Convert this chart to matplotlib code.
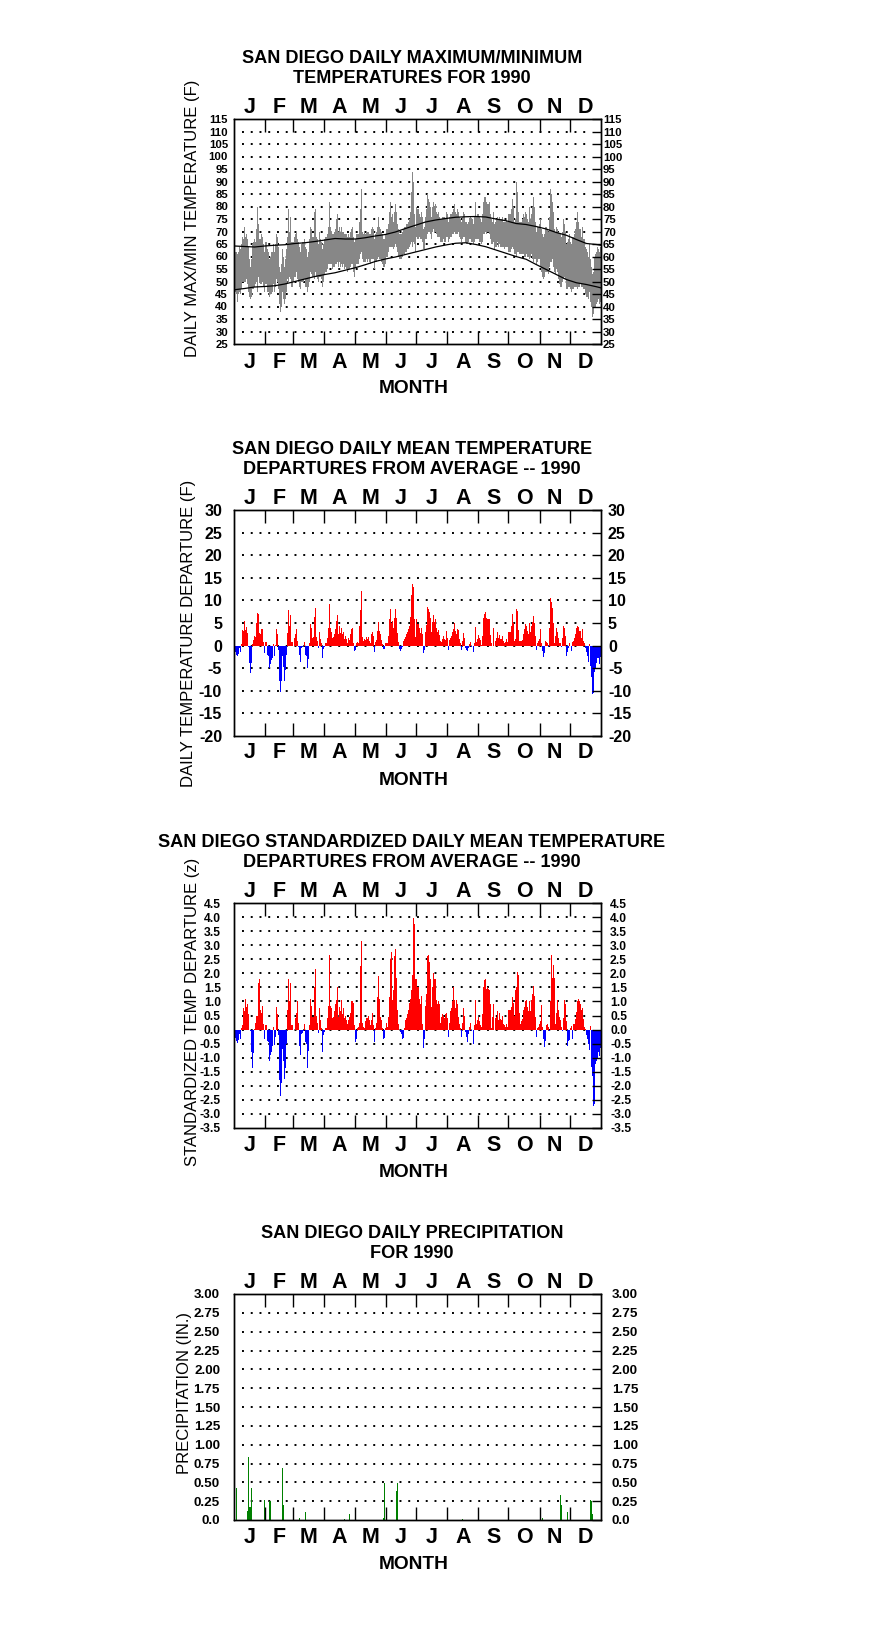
import numpy as np
import matplotlib
matplotlib.use('Agg')
import matplotlib.pyplot as plt

plt.rcParams['font.family'] = ['Liberation Sans', 'DejaVu Sans']

# ---- data ----
month_letters = ['J', 'F', 'M', 'A', 'M', 'J', 'J', 'A', 'S', 'O', 'N', 'D']
month_len = [31, 28, 31, 30, 31, 30, 31, 31, 30, 31, 30, 31]

# daily max / min temperature (F)
tmax = [
    63, 62, 62, 61, 62, 64, 63, 65, 68, 67, 72, 68, 69, 67, 64, 59, 56, 59, 65, 66, 67, 66, 71, 80, 73, 67, 67, 69, 68, 65, 62,
    66, 66, 63, 62, 59, 60, 62, 62, 65, 62, 65, 69, 68, 64, 56, 54, 57, 63, 60, 56, 59, 63, 68, 79, 70, 76, 66, 66,
    66, 68, 69, 70, 67, 66, 64, 62, 65, 66, 66, 67, 64, 63, 60, 62, 67, 72, 71, 68, 68, 78, 79, 68, 67, 65, 70, 67, 66, 63, 65,
    67, 68, 69, 72, 82, 72, 70, 69, 69, 70, 71, 75, 77, 70, 72, 70, 72, 70, 70, 69, 69, 69, 68, 69, 68, 70, 71, 72, 68, 66,
    67, 69, 69, 69, 74, 79, 87, 70, 69, 70, 69, 70, 70, 70, 69, 69, 71, 72, 71, 67, 69, 70, 72, 76, 72, 71, 70, 69, 67, 67, 69,
    71, 71, 73, 78, 82, 76, 77, 74, 78, 81, 78, 73, 71, 69, 69, 69, 70, 71, 72, 72, 73, 73, 74, 75, 78, 86, 94, 90, 77, 72,
    80, 79, 79, 77, 76, 78, 76, 71, 72, 76, 79, 85, 83, 82, 80, 76, 80, 82, 80, 81, 78, 77, 78, 76, 75, 75, 76, 76, 76, 75, 78,
    77, 74, 76, 77, 77, 78, 79, 81, 78, 77, 79, 78, 76, 75, 74, 76, 78, 77, 74, 74, 73, 74, 75, 76, 75, 75, 73, 76, 82, 76, 77,
    77, 76, 75, 74, 77, 82, 84, 84, 82, 81, 81, 82, 77, 75, 74, 78, 73, 74, 75, 76, 75, 76, 75, 75, 76, 74, 74, 74, 75, 74,
    77, 77, 79, 83, 80, 74, 75, 90, 86, 78, 74, 74, 74, 75, 77, 76, 78, 77, 75, 74, 80, 75, 77, 80, 84, 80, 74, 70, 72, 72, 73,
    75, 71, 69, 68, 69, 72, 72, 71, 70, 76, 87, 85, 82, 78, 71, 70, 72, 71, 70, 69, 69, 68, 70, 75, 73, 70, 65, 66, 67, 69,
    66, 65, 68, 68, 69, 71, 74, 78, 74, 71, 71, 68, 72, 67, 67, 64, 63, 62, 60, 65, 59, 56, 53, 54, 60, 61, 62, 64, 63, 62, 64,
]
tmin = [
    46, 46, 45, 42, 45, 46, 45, 47, 50, 50, 50, 50, 51, 49, 46, 44, 43, 44, 47, 47, 48, 49, 50, 46, 52, 50, 49, 49, 50, 48, 46,
    49, 49, 46, 46, 44, 45, 45, 46, 49, 46, 48, 51, 50, 47, 41, 38, 40, 46, 43, 41, 43, 46, 51, 50, 52, 51, 48, 48,
    50, 52, 52, 54, 51, 50, 48, 47, 50, 50, 50, 51, 48, 48, 46, 48, 50, 54, 53, 52, 52, 51, 54, 52, 51, 50, 52, 52, 51, 48, 50,
    53, 54, 55, 57, 57, 57, 57, 55, 56, 56, 57, 57, 58, 56, 58, 56, 57, 56, 57, 55, 56, 55, 54, 55, 55, 56, 57, 57, 54, 52,
    56, 57, 57, 57, 59, 61, 62, 59, 58, 58, 58, 59, 58, 59, 58, 57, 59, 59, 59, 55, 58, 58, 59, 60, 59, 59, 58, 57, 56, 56, 57,
    60, 60, 62, 64, 64, 64, 64, 63, 64, 65, 64, 62, 60, 59, 59, 59, 60, 61, 61, 62, 62, 63, 63, 64, 65, 66, 64, 66, 65, 62,
    68, 67, 67, 68, 67, 67, 66, 63, 63, 67, 67, 69, 70, 70, 69, 67, 70, 71, 70, 70, 69, 68, 68, 68, 66, 66, 66, 67, 66, 66, 68,
    68, 66, 67, 68, 68, 69, 69, 70, 69, 69, 69, 70, 68, 67, 66, 67, 68, 68, 66, 65, 65, 66, 67, 67, 66, 66, 65, 66, 67, 67, 67,
    67, 66, 66, 65, 66, 69, 69, 70, 69, 70, 70, 69, 67, 65, 65, 66, 63, 64, 64, 66, 64, 65, 64, 64, 64, 64, 63, 64, 64, 64,
    62, 62, 63, 64, 63, 61, 61, 60, 62, 62, 61, 61, 61, 61, 61, 60, 60, 61, 60, 60, 59, 60, 61, 59, 58, 59, 59, 57, 58, 59, 59,
    56, 54, 52, 51, 52, 54, 54, 54, 53, 56, 58, 58, 59, 56, 54, 53, 55, 54, 51, 49, 48, 48, 50, 51, 52, 51, 47, 47, 48, 48,
    47, 46, 47, 47, 48, 48, 48, 47, 48, 48, 49, 48, 48, 47, 47, 45, 44, 44, 43, 46, 42, 40, 36, 37, 40, 40, 41, 42, 43, 41, 42,
]

# normal max / min curves, read every 10 days
norm_days = [1, 11, 21, 31, 41, 51, 61, 71, 81, 91, 101, 111, 121, 131, 141, 151, 161, 171, 181,
             191, 201, 211, 221, 231, 241, 251, 261, 271, 281, 291, 301, 311, 321, 331, 341, 351, 361, 365]
norm_max = [64.2, 64.0, 63.8, 64.2, 64.5, 64.7, 65.2, 65.5, 66.0, 66.6, 67.2, 67.0, 67.0, 67.5, 68.2, 68.8, 69.8, 71.2, 72.5,
            73.8, 74.6, 75.2, 75.7, 75.9, 76.0, 75.8, 75.0, 74.3, 73.2, 72.8, 72.0, 71.0, 69.6, 68.5, 66.8, 65.2, 64.8, 64.5]
norm_min = [46.7, 47.2, 47.8, 48.0, 48.3, 49.0, 50.0, 51.0, 52.0, 52.8, 53.5, 54.5, 55.5, 56.7, 58.0, 59.0, 59.8, 60.8, 61.8,
            62.8, 63.8, 64.6, 65.3, 65.5, 64.8, 63.9, 62.6, 61.3, 60.0, 58.9, 56.8, 54.8, 52.8, 50.8, 49.5, 48.8, 47.9, 47.5]

# daily mean temperature departure (F)
dep = [
    -1.0, -1.5, -2.0, -2.2, -1.8, -0.5, -1.5, 0.3, 3.5, 3.2, 5.5, 3.5, 4.2, 2.7, -0.3, -3.8, -6.0, -3.8, 0.3, 1.2, 2.2, 2.0, 5.0, 7.2, 7.0, 2.8, 2.5, 3.6, 3.6, 0.8, -1.6,
    0.9, 0.9, -2.0, -2.4, -4.9, -4.0, -3.2, -2.8, 0.4, -2.4, 0.2, 3.6, 2.5, -0.9, -7.8, -10.2, -7.8, -2.2, -4.8, -7.8, -5.4, -2.0, 2.8, 7.9, 4.4, 6.8, 0.7, 0.7,
    0.0, 1.7, 2.5, 3.6, 1.0, -0.3, -2.0, -3.6, -0.6, -0.4, 0.0, 0.9, -2.0, -2.4, -5.0, -3.0, 0.5, 4.7, 3.8, 1.7, 2.0, 6.3, 8.3, 2.0, 1.0, -0.5, 3.0, 1.4, 0.5, -2.8, -0.8,
    -0.3, 0.5, 1.7, 4.0, 9.2, 3.8, 3.0, 1.7, 2.0, 2.5, 3.6, 5.5, 6.8, 2.5, 4.4, 2.8, 4.0, 2.5, 3.0, 1.5, 2.1, 1.5, 0.5, 1.6, 1.2, 2.5, 3.6, 4.0, 0.6, -1.3,
    -1.0, 0.5, 0.7, 0.6, 4.3, 7.8, 12.0, 2.0, 1.0, 1.4, 1.2, 1.8, 1.5, 2.0, 1.0, 0.5, 2.5, 3.0, 2.2, -1.5, 0.8, 1.2, 3.2, 5.3, 3.2, 2.5, 1.2, 0.3, -0.8, -0.8, 0.5,
    0.5, 0.6, 2.2, 5.9, 8.0, 5.0, 5.5, 3.8, 6.1, 8.0, 6.2, 2.8, 0.7, -0.8, -1.1, -0.8, -0.3, 1.0, 1.5, 2.0, 2.5, 3.0, 3.6, 4.4, 6.3, 11.2, 13.7, 13.0, 5.8, 2.0,
    5.8, 4.8, 4.8, 4.0, 2.8, 4.0, 2.5, -1.7, -0.9, 2.9, 4.5, 8.6, 8.2, 7.4, 6.1, 2.9, 5.3, 6.8, 5.3, 5.9, 3.8, 3.0, 3.4, 2.3, 1.0, 0.7, 1.5, 2.1, 1.5, 1.2, 3.3,
    1.7, -0.9, 1.2, 1.7, 2.1, 2.9, 3.6, 5.0, 3.3, 2.5, 3.6, 3.4, 1.4, 0.6, -0.9, 1.0, 2.7, 1.7, -0.5, -0.9, -1.3, -0.5, 0.4, 0.8, -0.3, 0.0, -1.5, 0.6, 4.2, 0.8, 1.4,
    2.3, 1.7, 1.2, 0.2, 2.1, 6.1, 7.0, 7.4, 6.2, 5.9, 5.9, 5.9, 2.3, 0.6, 0.0, 3.8, 0.0, 1.0, 1.7, 2.9, 1.7, 2.3, 1.5, 1.4, 2.1, 1.0, 0.6, 0.8, 1.5, 0.8,
    3.0, 3.0, 4.4, 7.0, 5.0, 1.0, 1.5, 8.2, 7.6, 3.5, 1.0, 1.0, 1.0, 1.3, 2.5, 3.6, 4.7, 4.4, 3.2, 2.5, 5.1, 2.9, 4.4, 5.3, 6.6, 5.1, 2.1, -0.9, 0.6, 1.0, 1.4,
    3.6, 0.5, -1.3, -2.6, -1.7, 1.0, 0.8, 0.6, -0.3, 4.0, 10.5, 9.7, 8.3, 5.1, 0.6, 2.1, 4.0, 2.9, 1.7, 0.6, 0.5, -0.3, 1.7, 4.4, 3.8, 2.1, -2.3, -1.5, -0.5, 0.5,
    0.0, -1.1, 0.8, 1.0, 1.7, 2.5, 4.0, 4.4, 4.2, 3.2, 3.2, 1.7, 3.6, 1.0, 0.5, -0.5, -1.5, -2.3, -3.6, 0.4, -4.5, -7.0, -10.7, -10.4, -5.8, -5.1, -3.8, -2.8, -2.8, -4.0, -2.6,
]

# standardized daily mean temperature departure (z)
zdep = [
    -0.25, -0.3, -0.42, -0.48, -0.38, -0.15, -0.35, 0.05, 0.15, 0.75, 0.65, 1.1, 0.8, 0.9, 0.55, -0.02, -0.05, -0.8, -1.35, -0.85, 0.02, 0.25, 0.48, 0.48, 1.65, 1.8, 0.7, 0.6, 0.85, 0.2, -0.35,
    0.15, 0.15, -0.4, -0.45, -1.1, -0.9, -0.8, -0.6, 0.1, -0.55, -0.25, 0.8, 0.55, -0.2, -1.8, -2.35, -1.9, -0.7, -1.1, -1.75, -1.35, -0.5, 0.7, 1.8, 1.0, 1.65, 0.15, 0.15,
    0.0, 0.0, 0.4, 0.6, 1.0, 0.25, -0.57, -0.92, -0.15, -0.12, -0.05, 0.2, -0.45, -0.5, -1.35, -0.75, 0.15, 1.1, 0.85, 0.45, 0.45, 1.5, 2.15, 0.5, 0.25, -0.12, 0.75, 0.35, 0.05, -0.78, -0.2,
    -0.1, 0.05, 0.4, 0.85, 2.65, 0.85, 0.75, 0.4, 0.45, 0.65, 0.9, 1.05, 1.5, 0.45, 0.8, 0.65, 1.05, 0.55, 0.75, 0.4, 0.5, 0.35, 0.2, 0.35, 0.45, 0.6, 1.0, 1.0, 0.95, 0.15,
    -0.45, -0.35, 0.05, 0.1, 0.25, 2.25, 3.15, 0.25, 0.1, 0.05, 0.3, 0.4, 0.42, 0.5, 0.35, 0.15, 0.35, 0.6, 0.15, -0.45, 0.05, 0.25, 1.15, 1.9, 1.1, 0.45, 0.35, 0.05, -0.35, -0.3, 0.05,
    0.25, 0.1, 0.45, 1.15, 2.5, 2.75, 1.05, 1.4, 2.6, 2.85, 1.85, 0.7, 0.2, 0.0, -0.1, -0.15, -0.35, -0.3, 0.05, 0.35, 0.4, 0.55, 0.7, 0.95, 1.1, 1.4, 1.95, 3.95, 3.75, 1.8,
    1.8, 1.5, 1.5, 1.1, 0.9, 1.2, 0.2, -0.65, -0.35, 0.85, 1.25, 2.6, 2.65, 2.4, 1.8, 0.8, 1.5, 2.0, 1.8, 1.8, 1.05, 0.9, 1.0, 0.9, 0.25, 0.45, 0.55, 0.5, 0.42, 0.55, 0.6,
    0.4, -0.28, 0.25, 0.65, 0.75, 1.0, 1.5, 1.05, 0.78, 1.05, 0.9, 0.45, 0.2, 0.05, -0.28, 0.25, 0.75, 0.5, -0.1, -0.25, -0.45, -0.15, 0.08, 0.22, -0.05, 0.0, -0.5, 0.15, 1.05, 0.2, 0.35,
    0.45, 0.3, 0.15, 0.1, 0.55, 1.5, 1.75, 1.8, 1.45, 1.5, 1.45, 1.4, 0.9, 0.05, 0.45, 0.9, 0.0, 0.4, 0.45, 0.65, 0.35, 0.6, 0.38, 0.35, 0.5, 0.2, 0.15, 0.1, 0.2, 0.1,
    0.7, 0.7, 0.8, 1.15, 0.95, 0.5, 1.4, 1.5, 2.05, 1.95, 0.6, 0.2, 0.3, 0.38, 0.7, 0.8, 1.0, 1.05, 0.82, 0.65, 1.0, 0.65, 1.05, 1.25, 1.55, 1.2, 0.45, -0.25, 0.05, 0.1, 0.2,
    0.3, 0.88, 0.1, -0.33, -0.63, -0.4, 0.15, 0.2, 0.08, -0.05, 1.0, 2.65, 1.85, 2.3, 1.85, 0.2, 0.6, 1.05, 0.7, 0.45, 0.35, 0.1, -0.05, 0.4, 1.05, 0.9, 0.3, -0.57, -0.42, -0.37,
    0.05, 0.12, -0.33, 0.2, 0.2, 0.38, 0.62, 1.0, 1.1, 1.0, 0.9, 0.7, 0.75, 0.38, 0.08, 0.03, -0.18, -0.33, -0.53, -0.73, 0.12, -1.32, -1.65, -2.7, -2.65, -1.23, -1.1, -1.0, -0.8, -0.95, -0.65,
]

# daily precipitation (in.), only days with rain
precip_days = [3, 14, 15, 16, 17, 18, 31, 32, 36, 37, 49, 50, 66, 72, 89, 95, 96, 109, 110, 115,
               149, 150, 162, 163, 228, 307, 325, 326, 332, 355, 356, 357]
precip_in = [0.43, 0.12, 0.83, 0.17, 0.17, 0.43, 0.27, 0.09, 0.25, 0.25, 0.69, 0.20, 0.02, 0.10, 0.13, 0.03, 0.27, 0.37, 0.01, 0.08,
             0.02, 0.49, 0.38, 0.49, 0.01, 0.02, 0.33, 0.20, 0.10, 0.26, 0.25, 0.08]

# ---- layout ----
W, H = 876, 1634
fig = plt.figure(figsize=(W / 100, H / 100), dpi=100)

month_ends = np.cumsum(month_len)[:-1]
month_mid = np.cumsum(month_len) - np.array(month_len) / 2.0
days = np.arange(1, 366) - 0.5


def px_rect(top, bottom, left=234, right=601):
    return [left / W, 1 - bottom / H, (right - left) / W, (bottom - top) / H]


def setup(ax, ylim, ticks, labels, fs, lpad, rpad, bot_off):
    ax.set_xlim(0, 365)
    ax.set_ylim(*ylim)
    ax.set_xticks(month_ends)
    ax.set_xticklabels([])
    ax.set_yticks(ticks)
    ax.set_yticklabels(labels, fontsize=fs, fontweight='bold')
    ax2 = ax.twinx()
    ax2.set_ylim(*ylim)
    ax2.set_yticks(ticks)
    ax2.set_yticklabels(labels, fontsize=fs, fontweight='bold')
    ax2.tick_params(axis='y', direction='in', length=6.8, width=1.0, pad=rpad)
    ax.tick_params(axis='x', direction='in', top=True, bottom=True, length=9.4, width=1.0)
    ax.tick_params(axis='y', direction='in', left=False, right=False, pad=lpad)
    for sp in list(ax.spines.values()) + list(ax2.spines.values()):
        sp.set_linewidth(1.0)
    # dotted grid lines
    ax.hlines(ticks[1:-1], 8, 355.7, colors='black', linewidth=1.4,
              linestyles=(0, (1, 3.5)), zorder=0.5)
    for c, L in zip(month_mid, month_letters):
        ax.annotate(L, xy=(c, 1), xycoords=('data', 'axes fraction'), xytext=(0, 4.3),
                    textcoords='offset points', ha='center', va='baseline',
                    fontsize=15.5, fontweight='bold')
        ax.annotate(L, xy=(c, 0), xycoords=('data', 'axes fraction'), xytext=(0, -bot_off),
                    textcoords='offset points', ha='center', va='baseline',
                    fontsize=15.5, fontweight='bold')


def titles(top, bottom, line1, line2, ylab, ylab_x, ylab_y):
    fig.text(412 / W, 1 - (top - 56) / H, line1, ha='center', va='baseline', fontsize=13.1, fontweight='bold')
    fig.text(412 / W, 1 - (top - 36) / H, line2, ha='center', va='baseline', fontsize=13.1, fontweight='bold')
    fig.text(414 / W, 1 - (bottom + 49) / H, 'MONTH', ha='center', va='baseline', fontsize=13.8, fontweight='bold')
    fig.text(ylab_x / W, 1 - ylab_y / H, ylab, rotation=90, ha='center', va='center', fontsize=12)


# panel 1: max/min temperatures
ax1 = fig.add_axes(px_rect(119, 344))
tmax_a = np.array(tmax)
tmin_a = np.array(tmin)
ax1.bar(days, tmax_a - tmin_a, bottom=tmin_a, width=1.0, color='#878787', linewidth=0, zorder=1)
ax1.plot(np.array(norm_days) - 0.5, norm_max, color='black', linewidth=0.9, zorder=2)
ax1.plot(np.array(norm_days) - 0.5, norm_min, color='black', linewidth=0.9, zorder=2)
t1 = list(range(25, 116, 5))
setup(ax1, (25, 115), t1, ['%d' % v for v in t1], 8.2, 4.3, 1.5, 17.6)
titles(119, 344, 'SAN DIEGO DAILY MAXIMUM/MINIMUM', 'TEMPERATURES FOR 1990',
       'DAILY MAX/MIN TEMPERATURE (F)', 193, 218)

# panel 2: departures
ax2 = fig.add_axes(px_rect(510, 736))
dep_a = np.array(dep)
ax2.bar(days, dep_a, width=1.0, color=np.where(dep_a >= 0, '#ff0000', '#0000ff'), linewidth=0, zorder=1)
t2 = list(range(-20, 31, 5))
setup(ax2, (-20, 30), t2, ['%d' % v for v in t2], 11.5, 8.6, 5.0, 16.1)
titles(510, 736, 'SAN DIEGO DAILY MEAN TEMPERATURE', 'DEPARTURES FROM AVERAGE -- 1990',
       'DAILY TEMPERATURE DEPARTURE (F)', 188, 633)

# panel 3: standardized departures
ax3 = fig.add_axes(px_rect(903, 1128))
z_a = np.array(zdep)
ax3.bar(days, z_a, width=1.0, color=np.where(z_a >= 0, '#ff0000', '#0000ff'), linewidth=0, zorder=1)
t3 = [v / 2.0 for v in range(-7, 10)]
setup(ax3, (-3.5, 4.5), t3, ['%.1f' % v for v in t3], 8.7, 9.4, 6.5, 16.8)
titles(903, 1128, 'SAN DIEGO STANDARDIZED DAILY MEAN TEMPERATURE', 'DEPARTURES FROM AVERAGE -- 1990',
       'STANDARDIZED TEMP DEPARTURE (z)', 193, 1012)

# panel 4: precipitation
ax4 = fig.add_axes(px_rect(1294, 1520))
ax4.bar(np.array(precip_days) - 0.5, precip_in, width=0.8, color='#008000', linewidth=0, zorder=1)
t4 = [v / 4.0 for v in range(0, 13)]
lab4 = ['0.0'] + ['%.2f' % v for v in t4[1:]]
setup(ax4, (0, 3), t4, lab4, 9.7, 10.0, 7.7, 16.8)
titles(1294, 1520, 'SAN DIEGO DAILY PRECIPITATION', 'FOR 1990',
       'PRECIPITATION (IN.)', 184, 1393)

fig.savefig('out.png', dpi=100)
